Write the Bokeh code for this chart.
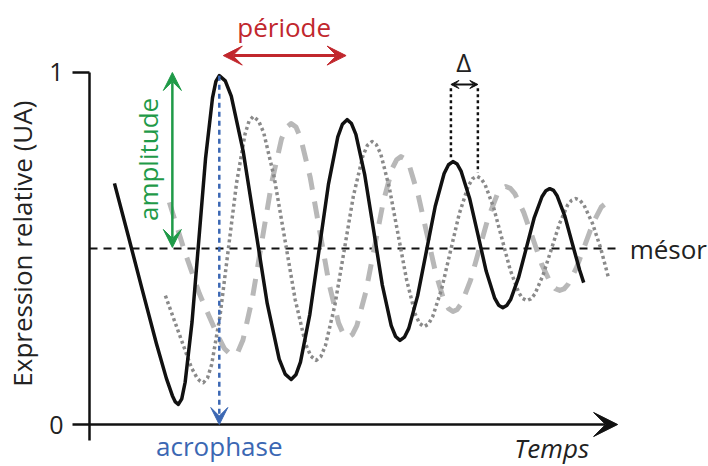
from bokeh.plotting import figure
from bokeh.models import Range1d, LinearAxis, FixedTicker, Label, Arrow, VeeHead
from bokeh.embed import file_html
from bokeh.resources import INLINE

# ---- data (time in arbitrary units, expression in UA) ----
black_t = [25, 39, 53, 67, 77, 83, 86, 89,
           92.4, 95.8, 102.7, 109.5, 116.3, 123.2, 126.6, 130,
           136, 142, 154, 166, 178, 190, 196, 202,
           206.7, 211.3, 220.7, 230, 239.3, 248.7, 253.3, 258,
           262.4, 266.8, 275.7, 284.5, 293.3, 302.2, 306.6, 311,
           315.4, 319.8, 328.7, 337.5, 346.3, 355.2, 359.6, 364,
           368.2, 372.3, 380.7, 389, 397.3, 405.7, 409.8, 414,
           417.9, 421.8, 429.7, 437.5, 445.3, 453.2, 457.1, 461,
           464.8, 468.5, 476, 483.5, 491, 495]
black_y = [0.685, 0.534, 0.381, 0.230, 0.131, 0.082, 0.064, 0.057,
           0.073, 0.120, 0.291, 0.524, 0.758, 0.928, 0.975, 0.991,
           0.976, 0.933, 0.775, 0.560, 0.344, 0.186, 0.143, 0.128,
           0.141, 0.177, 0.313, 0.497, 0.682, 0.817, 0.853, 0.866,
           0.855, 0.824, 0.709, 0.553, 0.396, 0.281, 0.250, 0.239,
           0.248, 0.273, 0.366, 0.493, 0.620, 0.713, 0.738, 0.747,
           0.740, 0.719, 0.643, 0.540, 0.436, 0.360, 0.339, 0.332,
           0.338, 0.355, 0.417, 0.501, 0.586, 0.647, 0.664, 0.670,
           0.665, 0.649, 0.593, 0.515, 0.438, 0.403]

dotted_t = [76, 89, 102, 108, 111, 114,
            118.2, 122.3, 130.7, 139, 147.3, 155.7, 159.8, 164,
            169.3, 174.5, 185, 195.5, 206, 216.5, 221.8, 227,
            231.7, 236.3, 245.7, 255, 264.3, 273.7, 278.3, 283,
            287.3, 291.7, 300.3, 309, 317.7, 326.3, 330.7, 335,
            339.4, 343.8, 352.7, 361.5, 370.3, 379.2, 383.6, 388,
            392.2, 396.3, 404.7, 413, 421.3, 429.7, 433.8, 438,
            442.1, 446.2, 454.3, 462.5, 470.7, 478.8, 482.9, 487,
            491.2, 495.3, 503.7, 512, 520]
dotted_y = [0.366, 0.264, 0.162, 0.131, 0.123, 0.119,
            0.132, 0.170, 0.308, 0.497, 0.686, 0.824, 0.862, 0.875,
            0.863, 0.829, 0.702, 0.529, 0.355, 0.228, 0.194, 0.182,
            0.193, 0.224, 0.338, 0.493, 0.649, 0.762, 0.793, 0.804,
            0.795, 0.769, 0.673, 0.541, 0.410, 0.313, 0.287, 0.278,
            0.285, 0.307, 0.385, 0.492, 0.598, 0.676, 0.698, 0.705,
            0.699, 0.681, 0.617, 0.529, 0.440, 0.376, 0.358, 0.352,
            0.357, 0.371, 0.425, 0.497, 0.570, 0.623, 0.637, 0.642,
            0.637, 0.623, 0.572, 0.501, 0.415]

dashed_t = [80, 95, 110, 127, 135, 139.5, 144,
            148.8, 153.7, 163.3, 173, 182.7, 192.3, 197.2, 202,
            206.8, 211.5, 221, 230.5, 240, 249.5, 254.3, 259,
            263.4, 267.8, 276.7, 285.5, 294.3, 303.2, 307.6, 312,
            316.3, 320.7, 329.3, 338, 346.7, 355.3, 359.7, 364,
            368.4, 372.8, 381.7, 390.5, 399.3, 408.2, 412.6, 417,
            421.5, 426, 435, 444, 453, 462, 466.5, 471,
            475.2, 479.3, 487.7, 496, 504.3, 512.7, 517]
dashed_y = [0.631, 0.494, 0.372, 0.261, 0.216, 0.204, 0.196,
            0.207, 0.240, 0.361, 0.526, 0.690, 0.811, 0.844, 0.855,
            0.845, 0.814, 0.703, 0.551, 0.399, 0.288, 0.257, 0.247,
            0.256, 0.281, 0.376, 0.504, 0.633, 0.727, 0.752, 0.761,
            0.754, 0.732, 0.651, 0.541, 0.431, 0.350, 0.329, 0.321,
            0.327, 0.345, 0.410, 0.499, 0.587, 0.652, 0.670, 0.676,
            0.671, 0.656, 0.602, 0.529, 0.455, 0.401, 0.386, 0.381,
            0.385, 0.398, 0.445, 0.508, 0.572, 0.618, 0.628]

y_ticks = [0, 1]
y_tick_labels = ["0", "1"]
mesor = 0.5
mesor_t = [0, 530]
time_end = 529
acrophase_t = 130
acrophase_peak = 0.991
periode_t = [134, 257]
periode_y = 1.048
amplitude_t = 83
amplitude_y = [0.503, 1.0]
delta_t = [362, 389]
delta_peaks = [0.756, 0.716]
delta_top = 0.955
delta_arrow_y = 0.966

FONT = "Open Sans"
FS = "26px"
RED = "#c1272d"
GREEN = "#1f9a48"
BLUE = "#3b67b3"
TXT = "#222222"
INK = "#111111"

p = figure(width=708, height=466, x_range=Range1d(0, 620), y_range=Range1d(-0.1193, 1.2045),
           output_backend="svg", toolbar_location=None, title=None,
           x_axis_location=None, y_axis_location=None,
           min_border_left=88, min_border_right=0, min_border_top=0, min_border_bottom=0)
p.outline_line_color = None
p.grid.visible = False
p.background_fill_color = "white"
p.border_fill_color = "white"

yaxis = LinearAxis(bounds=(-0.0455, 1.0), ticker=FixedTicker(ticks=y_ticks))
yaxis.major_label_overrides = {t: l for t, l in zip(y_ticks, y_tick_labels)}
yaxis.major_tick_out = 17
yaxis.major_tick_in = 0
yaxis.minor_tick_out = 0
yaxis.minor_tick_in = 0
yaxis.axis_line_width = 2.5
yaxis.axis_line_color = INK
yaxis.major_tick_line_width = 2.5
yaxis.major_tick_line_color = INK
yaxis.major_label_text_font = FONT
yaxis.major_label_text_font_size = "25px"
yaxis.major_label_text_color = TXT
yaxis.major_label_standoff = 9
p.add_layout(yaxis, "left")

# second (line-less) axis carrying the axis title
title_axis = LinearAxis(bounds=(0.034, 1.0), ticker=FixedTicker(ticks=[]))
title_axis.axis_line_color = None
title_axis.major_tick_line_color = None
title_axis.minor_tick_line_color = None
title_axis.axis_label = "Expression relative (UA)\u00a0\u00a0\u00a0"
title_axis.axis_label_text_font = FONT
title_axis.axis_label_text_font_size = FS
title_axis.axis_label_text_font_style = "normal"
title_axis.axis_label_text_color = TXT
title_axis.axis_label_standoff = 7
p.add_layout(title_axis, "left")

# time axis arrow
p.add_layout(Arrow(x_start=0, y_start=0, x_end=time_end, y_end=0, line_width=2.5, line_color=INK,
                   end=VeeHead(size=24, fill_color=INK, line_color=INK, line_width=1)))

# mesor
p.line(mesor_t, [mesor, mesor], line_color=INK, line_width=2, line_dash="8 6")

# curves
p.line(dashed_t, dashed_y, line_color="#b8b8b8", line_width=5, line_dash="17 12", line_join="round")
p.line(dotted_t, dotted_y, line_color="#8a8a8a", line_width=3.5, line_dash="3 3", line_join="round")
p.line(black_t, black_y, line_color=INK, line_width=3.5, line_join="round")

# acrophase
p.add_layout(Arrow(x_start=acrophase_t, y_start=acrophase_peak, x_end=acrophase_t, y_end=0,
                   line_color=BLUE, line_width=2.5, line_dash="5 4",
                   end=VeeHead(size=17, fill_color=BLUE, line_color=BLUE, line_width=1)))
# periode
p.add_layout(Arrow(x_start=periode_t[0], y_start=periode_y, x_end=periode_t[1], y_end=periode_y,
                   line_color=RED, line_width=3,
                   start=VeeHead(size=19, fill_color=RED, line_color=RED, line_width=1),
                   end=VeeHead(size=19, fill_color=RED, line_color=RED, line_width=1)))
# amplitude
p.add_layout(Arrow(x_start=amplitude_t, y_start=amplitude_y[0], x_end=amplitude_t, y_end=amplitude_y[1],
                   line_color=GREEN, line_width=2.5,
                   start=VeeHead(size=18, fill_color=GREEN, line_color=GREEN, line_width=1),
                   end=VeeHead(size=18, fill_color=GREEN, line_color=GREEN, line_width=1)))
# delta bracket
for t, pk in zip(delta_t, delta_peaks):
    p.line([t, t], [delta_top, pk], line_color=INK, line_width=2.5, line_dash="3 3")
p.add_layout(Arrow(x_start=delta_t[0], y_start=delta_arrow_y, x_end=delta_t[1], y_end=delta_arrow_y,
                   line_color=INK, line_width=2,
                   start=VeeHead(size=8, fill_color=INK, line_color=INK, line_width=1),
                   end=VeeHead(size=8, fill_color=INK, line_color=INK, line_width=1)))


def lab(x, y, text, color=TXT, align="center", baseline="alphabetic", angle=0, style="normal"):
    p.add_layout(Label(x=x, y=y, text=text, text_font=FONT, text_font_size=FS, text_color=color,
                       text_align=align, text_baseline=baseline, angle=angle, text_font_style=style))


lab(195, 1.130, "période", RED)
lab(375, 1.031, "Δ")
lab(59, 0.753, "amplitude", GREEN, angle=1.5708)
lab(130, -0.060, "acrophase", BLUE)
lab(463, -0.068, "Temps", style="italic")
lab(541, 0.499, "mésor", align="left")

open("out.html", "w").write(file_html(p, INLINE))
